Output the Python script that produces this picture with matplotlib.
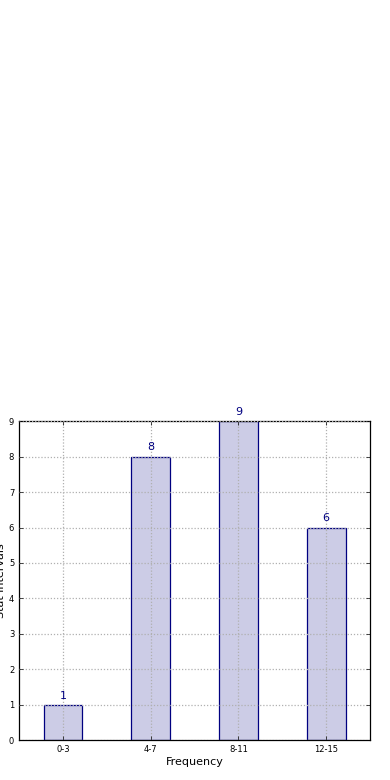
import matplotlib
matplotlib.use('Agg')
import matplotlib.pyplot as plt
import numpy as np

categories = ['0-3', '4-7', '8-11', '12-15']
counts = [1, 8, 9, 6]

fig = plt.figure(figsize=(3.9, 7.8), dpi=100)
ax = fig.add_axes([0.049, 0.051, 0.9, 0.409])

x = np.arange(len(categories))
bars = ax.bar(x, counts, width=0.44, color=(0.8, 0.8, 0.9), edgecolor='navy',
              linewidth=0.9, zorder=1)
for xi, c in zip(x, counts):
    ax.text(xi, c + 0.12, str(c), ha='center', va='bottom', color='navy', fontsize=8)

ax.set_xlim(-0.5, 3.5)
ax.set_ylim(0, 9)
ax.set_xticks(x)
ax.set_xticklabels(categories)
ax.set_yticks(range(10))
ax.tick_params(direction='in', top=True, right=True, labelsize=6, length=3, width=0.5)
ax.grid(True, linestyle=(0, (1, 1.5)), color='#b0b0b0', linewidth=0.9, zorder=2)
ax.set_axisbelow(False)
ax.set_xlabel('Frequency', fontsize=8, labelpad=2)
ax.set_ylabel('Stat intervals', fontsize=8, labelpad=2)
for s in ax.spines.values():
    s.set_linewidth(0.9)

plt.savefig('out.png', dpi=100)
